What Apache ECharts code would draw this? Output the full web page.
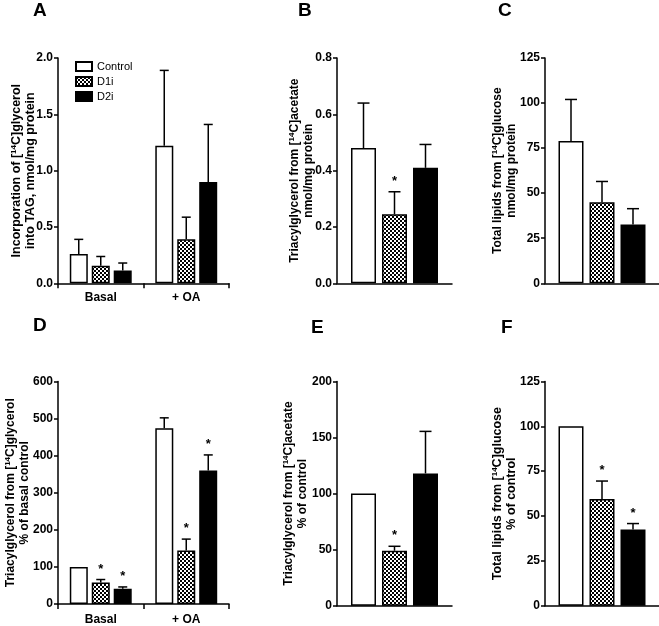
<!DOCTYPE html>
<html><head><meta charset="utf-8">
<script src="https://cdn.jsdelivr.net/npm/echarts@6/dist/echarts.min.js"></script>
<style>html,body{margin:0;padding:0;background:#fff}#c{width:659px;height:626px}</style>
</head><body><div id="c"></div>
<script>
// ---------- data ----------
const groupCats = ['Basal', '+ OA'];
const singleCat = [''];
const seriesNames = ['Control', 'D1i', 'D2i'];

// Panel A: incorporation into TAG (nmol/mg protein)
const aControl = [0.26, 1.22];   const aControlErr = [0.13, 0.67];
const aD1i = [0.155, 0.39];      const aD1iErr = [0.083, 0.197];
const aD2i = [0.113, 0.90];      const aD2iErr = [0.067, 0.51];
const aStars = [[0, 0], [0, 0], [0, 0]];
// Panel B: TAG from acetate (nmol/mg protein)
const bValues = [0.48, 0.245, 0.41]; const bErr = [0.16, 0.08, 0.083]; const bStars = [0, 1, 0];
// Panel C: total lipids from glucose (nmol/mg protein)
const cValues = [79, 45, 32.6];      const cErr = [23, 11.5, 8.8];      const cStars = [0, 0, 0];
// Panel D: TAG from glycerol (% of basal control)
const dControl = [100, 474];     const dControlErr = [0, 28];
const dD1i = [58, 144];          const dD1iErr = [8, 31];
const dD2i = [41, 360];          const dD2iErr = [5, 42];
const dStars = [[0, 0], [1, 1], [1, 1]];
// Panel E: TAG from acetate (% of control)
const eValues = [100, 49, 118];  const eErr = [0, 4, 37.5];  const eStars = [0, 1, 0];
// Panel F: total lipids from glucose (% of control)
const fValues = [100, 59.5, 42.5]; const fErr = [0, 10, 3.3]; const fStars = [0, 1, 1];

// y axis ticks
const yA = {min: 0, max: 2.0, interval: 0.5, dec: 1};
const yB = {min: 0, max: 0.8, interval: 0.2, dec: 1};
const yC = {min: 0, max: 125, interval: 25, dec: 0};
const yD = {min: 0, max: 600, interval: 100, dec: 0};
const yE = {min: 0, max: 200, interval: 50, dec: 0};
const yF = {min: 0, max: 125, interval: 25, dec: 0};

// ---------- styling ----------
const FONT = 'Liberation Sans, Arial, Helvetica, sans-serif';
const pc = document.createElement('canvas');
pc.width = 4; pc.height = 4;
const pctx = pc.getContext('2d');
pctx.fillStyle = '#fff'; pctx.fillRect(0, 0, 4, 4);
pctx.fillStyle = '#000'; pctx.fillRect(0, 0, 2, 2); pctx.fillRect(2, 2, 2, 2);
const fills = ['#ffffff', {image: pc, repetition: 'repeat'}, '#000000'];

const chart = echarts.init(document.getElementById('c'), null, {renderer: 'canvas'});

const grids = [
  {left: 58,  top: 58,    width: 171, height: 225.3},
  {left: 337, top: 58,    width: 115, height: 225.3},
  {left: 545, top: 58,    width: 114, height: 225.3},
  {left: 58,  top: 381.5, width: 171, height: 224.2},
  {left: 337, top: 381.5, width: 115, height: 224.2},
  {left: 545, top: 381.5, width: 114, height: 224.2}
];

function rich(fs) {
  const base = {fontFamily: FONT, fontWeight: 'bold', fontSize: fs, color: '#000', lineHeight: 14};
  return {n: base, s: Object.assign({}, base, {fontSize: Math.round(fs * 0.67), verticalAlign: 'top', lineHeight: 14})};
}
const names = [
  '{n|Incorporation of [}{s|14}{n|C]glycerol}\n{n|into TAG, nmol/mg protein}',
  '{n|Triacylglycerol from [}{s|14}{n|C]acetate}\n{n|nmol/mg protein}',
  '{n|Total lipids from [}{s|14}{n|C]glucose}\n{n|nmol/mg protein}',
  '{n|Triacylglycerol from [}{s|14}{n|C]glycerol}\n{n|% of basal control}',
  '{n|Triacylglycerol from [}{s|14}{n|C]acetate}\n{n|% of control}',
  '{n|Total lipids from [}{s|14}{n|C]glucose}\n{n|% of control}'
];
const nameGaps = [20, 21, 26, 26, 27, 26];
const nameSizes = [12.5, 12, 12, 12, 12, 12.5];
const yCfg = [yA, yB, yC, yD, yE, yF];

const axisLine = {show: true, lineStyle: {color: '#000', width: 1.5}};
const labelStyle = {color: '#000', fontWeight: 'bold', fontSize: 12, fontFamily: FONT};

const xAxes = [], yAxes = [], series = [];
for (let i = 0; i < 6; i++) {
  const grouped = (i === 0 || i === 3);
  xAxes.push({
    type: 'category', gridIndex: i, data: grouped ? groupCats : singleCat,
    axisLine: axisLine,
    axisTick: {show: grouped, length: 5, lineStyle: {color: '#000', width: 1.5}},
    axisLabel: Object.assign({show: grouped, margin: i === 3 ? 10 : 8}, labelStyle),
    splitLine: {show: false}
  });
  const y = yCfg[i];
  yAxes.push({
    type: 'value', gridIndex: i, min: y.min, max: y.max, interval: y.interval,
    axisLine: axisLine,
    axisTick: {show: true, length: 4, lineStyle: {color: '#000', width: 1.5}},
    axisLabel: Object.assign({margin: 5, formatter: v => v.toFixed(y.dec)}, labelStyle),
    splitLine: {show: false},
    name: names[i], nameLocation: 'middle', nameGap: nameGaps[i], nameRotate: 90,
    nameMoveOverlap: false,
    nameTextStyle: {rich: rich(nameSizes[i]), fontFamily: FONT, fontWeight: 'bold', fontSize: nameSizes[i], color: '#000', lineHeight: 14}
  });
}

function barSeries(panel, k, data, bw, gap) {
  return {
    type: 'bar', name: seriesNames[k], xAxisIndex: panel, yAxisIndex: panel,
    data: data, barWidth: bw, barGap: gap,
    itemStyle: {color: fills[k], borderColor: '#000', borderWidth: 1.5},
    emphasis: {disabled: true}, animation: false, z: 2
  };
}
function errSeries(panel, data, step, cap) {
  return {
    type: 'custom', name: 'err' + panel, xAxisIndex: panel, yAxisIndex: panel,
    data: data, animation: false, z: 5, silent: true,
    renderItem: function (params, api) {
      const cat = api.value(0), v = api.value(1), e = api.value(2), k = api.value(3), star = api.value(4);
      const base = api.coord([cat, v]);
      const top = api.coord([cat, v + e]);
      const x = base[0] + (k - 1) * step;
      const children = [];
      if (e > 0) {
        children.push({type: 'line', shape: {x1: x, y1: base[1], x2: x, y2: top[1]}, style: {stroke: '#000', lineWidth: 1.5}});
        children.push({type: 'line', shape: {x1: x - cap, y1: top[1], x2: x + cap, y2: top[1]}, style: {stroke: '#000', lineWidth: 1.5}});
      }
      if (star) {
        children.push({type: 'text', style: {text: '*', x: x, y: top[1] - 4, align: 'center', verticalAlign: 'bottom',
          font: 'bold 13px ' + FONT, fill: '#000'}});
      }
      return {type: 'group', children: children};
    }
  };
}

// grouped panels A and D
function grouped(panel, vals, errs, stars) {
  const ed = [];
  for (let k = 0; k < 3; k++) {
    series.push(barSeries(panel, k, vals[k], 18, '22%'));
    for (let c = 0; c < 2; c++) ed.push([c, vals[k][c], errs[k][c], k, stars[k][c]]);
  }
  series.push(errSeries(panel, ed, 22, 4.5));
}
grouped(0, [aControl, aD1i, aD2i], [aControlErr, aD1iErr, aD2iErr], aStars);
grouped(3, [dControl, dD1i, dD2i], [dControlErr, dD1iErr, dD2iErr], dStars);

function single(panel, vals, errs, stars) {
  const ed = [];
  for (let k = 0; k < 3; k++) {
    series.push(barSeries(panel, k, [vals[k]], 25, '24%'));
    ed.push([0, vals[k], errs[k], k, stars[k]]);
  }
  series.push(errSeries(panel, ed, 31, 6));
}
single(1, bValues, bErr, bStars);
single(2, cValues, cErr, cStars);
single(4, eValues, eErr, eStars);
single(5, fValues, fErr, fStars);

const letters = [['A', 40, 11], ['B', 305, 11], ['C', 505, 11], ['D', 40, 326], ['E', 318, 328], ['F', 508, 328]];

chart.setOption({
  animation: false,
  backgroundColor: '#fff',
  grid: grids,
  xAxis: xAxes,
  yAxis: yAxes,
  series: series,
  legend: {
    data: seriesNames, left: 70, top: 56, orient: 'vertical',
    itemWidth: 16, itemHeight: 9, itemGap: 4, icon: 'rect', selectedMode: false,
    textStyle: {color: '#000', fontSize: 11, fontFamily: FONT}
  },
  graphic: letters.map(l => ({
    type: 'text', left: l[1] - 7, top: l[2] - 10,
    style: {text: l[0], font: 'bold 19px ' + FONT, fill: '#000'}
  }))
});
</script></body></html>
